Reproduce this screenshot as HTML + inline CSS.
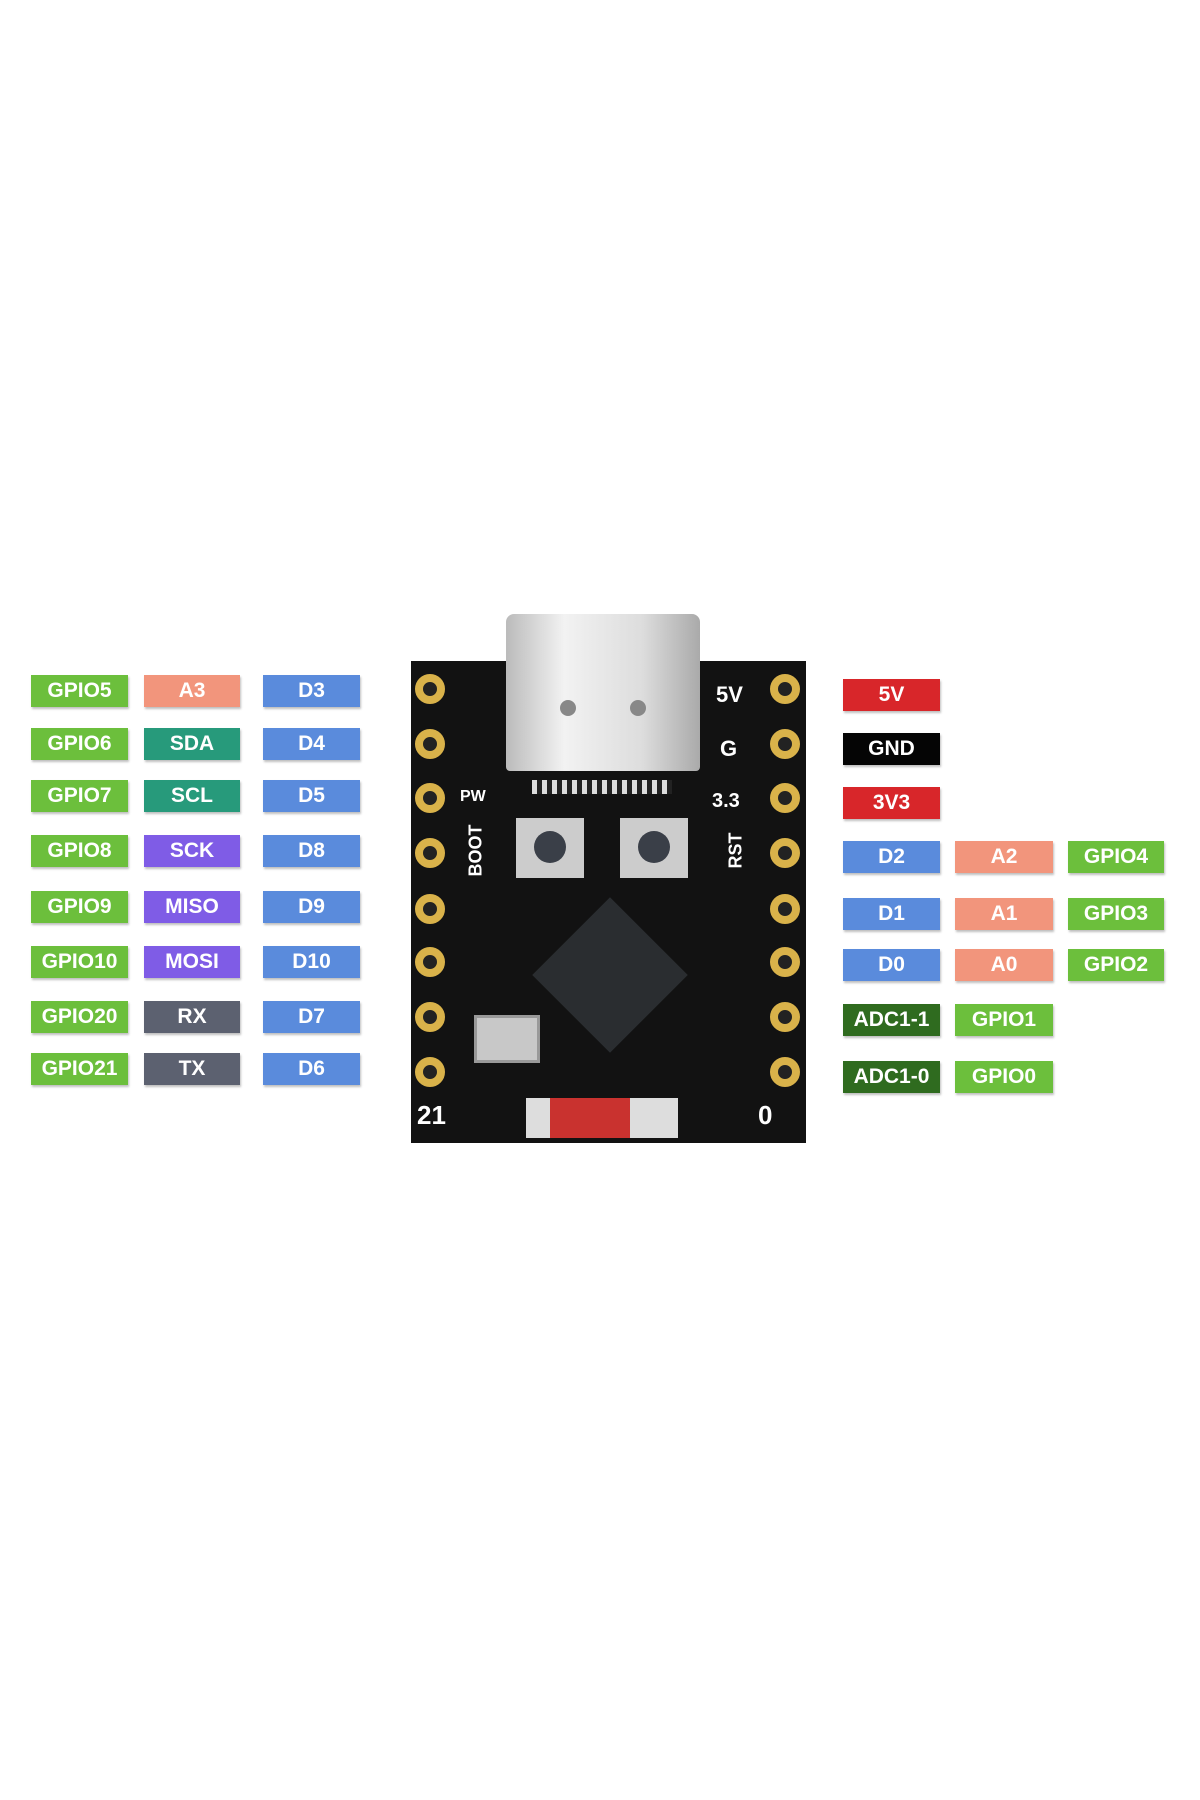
<!DOCTYPE html>
<html><head><meta charset="utf-8"><style>
body{margin:0;width:1200px;height:1800px;background:#fff;position:relative;overflow:hidden;font-family:"Liberation Sans",sans-serif}
.l{position:absolute;height:32px;line-height:32px;color:#fff;font-weight:bold;font-size:21px;text-align:center;box-shadow:1px 2px 2px rgba(0,0,0,.25);margin-top:4px}
.g{background:#6cbf3c}.s{background:#f2957c}.b{background:#5a8bdc}.t{background:#279a7b}.p{background:#7f5ce6}.y{background:#5c6170}.r{background:#d8262a}.k{background:#050505}.dg{background:#2f6b1f}
.pad{position:absolute;width:30px;height:30px;border-radius:50%;border:8px solid #d9b24a;background:#222;box-sizing:border-box}
.bt{position:absolute;color:#fff;font-weight:bold;font-size:22px}
</style></head><body>
<div class="l g" style="left:31px;top:671px;width:97px">GPIO5</div><div class="l s" style="left:144px;top:671px;width:96px">A3</div><div class="l b" style="left:263px;top:671px;width:97px">D3</div>
<div class="l g" style="left:31px;top:724px;width:97px">GPIO6</div><div class="l t" style="left:144px;top:724px;width:96px">SDA</div><div class="l b" style="left:263px;top:724px;width:97px">D4</div>
<div class="l g" style="left:31px;top:776px;width:97px">GPIO7</div><div class="l t" style="left:144px;top:776px;width:96px">SCL</div><div class="l b" style="left:263px;top:776px;width:97px">D5</div>
<div class="l g" style="left:31px;top:831px;width:97px">GPIO8</div><div class="l p" style="left:144px;top:831px;width:96px">SCK</div><div class="l b" style="left:263px;top:831px;width:97px">D8</div>
<div class="l g" style="left:31px;top:887px;width:97px">GPIO9</div><div class="l p" style="left:144px;top:887px;width:96px">MISO</div><div class="l b" style="left:263px;top:887px;width:97px">D9</div>
<div class="l g" style="left:31px;top:942px;width:97px">GPIO10</div><div class="l p" style="left:144px;top:942px;width:96px">MOSI</div><div class="l b" style="left:263px;top:942px;width:97px">D10</div>
<div class="l g" style="left:31px;top:997px;width:97px">GPIO20</div><div class="l y" style="left:144px;top:997px;width:96px">RX</div><div class="l b" style="left:263px;top:997px;width:97px">D7</div>
<div class="l g" style="left:31px;top:1049px;width:97px">GPIO21</div><div class="l y" style="left:144px;top:1049px;width:96px">TX</div><div class="l b" style="left:263px;top:1049px;width:97px">D6</div>
<div class="l r" style="left:843px;top:675px;width:97px">5V</div>
<div class="l k" style="left:843px;top:729px;width:97px">GND</div>
<div class="l r" style="left:843px;top:783px;width:97px">3V3</div>
<div class="l b" style="left:843px;top:837px;width:97px">D2</div><div class="l s" style="left:955px;top:837px;width:98px">A2</div><div class="l g" style="left:1068px;top:837px;width:96px">GPIO4</div>
<div class="l b" style="left:843px;top:894px;width:97px">D1</div><div class="l s" style="left:955px;top:894px;width:98px">A1</div><div class="l g" style="left:1068px;top:894px;width:96px">GPIO3</div>
<div class="l b" style="left:843px;top:945px;width:97px">D0</div><div class="l s" style="left:955px;top:945px;width:98px">A0</div><div class="l g" style="left:1068px;top:945px;width:96px">GPIO2</div>
<div class="l dg" style="left:843px;top:1000px;width:97px">ADC1-1</div><div class="l g" style="left:955px;top:1000px;width:98px">GPIO1</div>
<div class="l dg" style="left:843px;top:1057px;width:97px">ADC1-0</div><div class="l g" style="left:955px;top:1057px;width:98px">GPIO0</div>
<div style="position:absolute;left:411px;top:661px;width:395px;height:482px;background:#121212"></div>
<div style="position:absolute;left:506px;top:614px;width:194px;height:157px;background:linear-gradient(90deg,#bbb,#f2f2f2 30%,#ddd 70%,#aaa);border-radius:8px 8px 4px 4px"></div>
<div style="position:absolute;left:560px;top:700px;width:16px;height:16px;border-radius:50%;background:#888"></div>
<div style="position:absolute;left:630px;top:700px;width:16px;height:16px;border-radius:50%;background:#888"></div>
<div style="position:absolute;left:532px;top:780px;width:140px;height:14px;background:repeating-linear-gradient(90deg,#ddd 0 5px,#222 5px 10px)"></div>
<div style="position:absolute;left:516px;top:818px;width:68px;height:60px;background:#ccc"></div>
<div style="position:absolute;left:534px;top:831px;width:32px;height:32px;border-radius:50%;background:#3a3f48"></div>
<div style="position:absolute;left:620px;top:818px;width:68px;height:60px;background:#ccc"></div>
<div style="position:absolute;left:638px;top:831px;width:32px;height:32px;border-radius:50%;background:#3a3f48"></div>
<div style="position:absolute;left:555px;top:920px;width:110px;height:110px;background:#2a2d30;transform:rotate(45deg)"></div>
<div style="position:absolute;left:474px;top:1015px;width:60px;height:42px;background:#c8c8c8;border:3px solid #999"></div>
<div style="position:absolute;left:526px;top:1098px;width:152px;height:40px;background:#ddd"></div>
<div style="position:absolute;left:550px;top:1098px;width:80px;height:40px;background:#c9322f"></div>
<div class="pad" style="left:415px;top:674px"></div><div class="pad" style="left:415px;top:729px"></div><div class="pad" style="left:415px;top:783px"></div><div class="pad" style="left:415px;top:838px"></div><div class="pad" style="left:415px;top:894px"></div><div class="pad" style="left:415px;top:947px"></div><div class="pad" style="left:415px;top:1002px"></div><div class="pad" style="left:415px;top:1057px"></div>
<div class="pad" style="left:770px;top:674px"></div><div class="pad" style="left:770px;top:729px"></div><div class="pad" style="left:770px;top:783px"></div><div class="pad" style="left:770px;top:838px"></div><div class="pad" style="left:770px;top:894px"></div><div class="pad" style="left:770px;top:947px"></div><div class="pad" style="left:770px;top:1002px"></div><div class="pad" style="left:770px;top:1057px"></div>
<div class="bt" style="left:417px;top:1100px;font-size:26px">21</div>
<div class="bt" style="left:758px;top:1100px;font-size:26px">0</div>
<div class="bt" style="left:716px;top:682px">5V</div>
<div class="bt" style="left:720px;top:736px">G</div>
<div class="bt" style="left:712px;top:790px;font-size:20px">3.3</div>
<div class="bt" style="left:460px;top:788px;font-size:16px">PW</div>
<div class="bt" style="left:450px;top:840px;font-size:18px;transform:rotate(-90deg)">BOOT</div>
<div class="bt" style="left:718px;top:840px;font-size:18px;transform:rotate(-90deg)">RST</div>
</body></html>
